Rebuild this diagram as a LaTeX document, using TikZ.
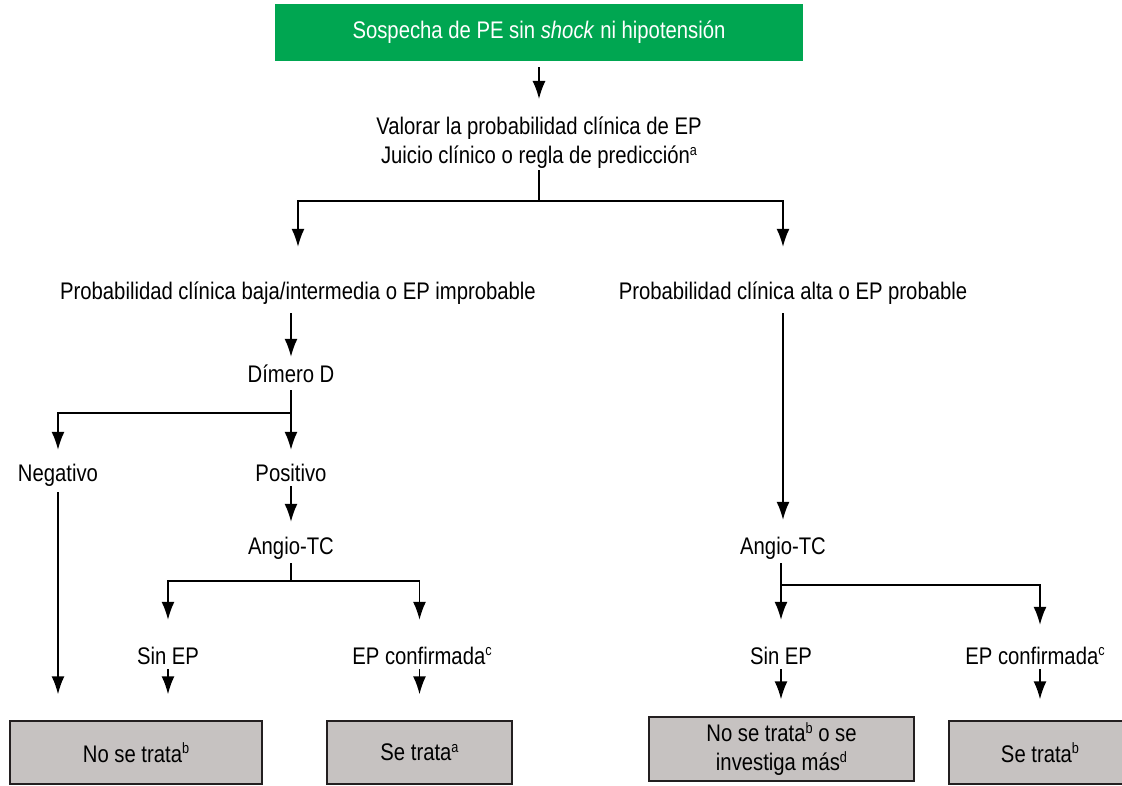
\documentclass[tikz,border=0pt]{standalone}
\usepackage{fontspec}
\setmainfont{Liberation Sans}[FakeStretch=0.845]
\usetikzlibrary{arrows.meta}

\definecolor{pegreen}{RGB}{0,166,81}
\definecolor{boxgray}{RGB}{198,194,193}
\definecolor{boxline}{RGB}{35,31,32}

\newcommand{\supr}[1]{\raisebox{0.36em}{\fontsize{15}{15}\selectfont #1}}

\tikzset{
  txt/.style={font=\fontsize{24}{29}\selectfont, inner sep=0pt, text height=17pt, text depth=5pt},
  twoline/.style={font=\fontsize{24}{29}\selectfont, inner sep=0pt, align=center},
  startbox/.style={fill=pegreen, text=white, font=\fontsize{24}{29}\selectfont, minimum width=528pt, minimum height=57pt, inner sep=0pt},
  endbox/.style={draw=boxline, fill=boxgray, line width=1.5pt, font=\fontsize{24}{29}\selectfont, align=center, minimum height=63pt, inner sep=0pt},
  arr/.style={-{Latex[length=18pt,width=13pt]}, line width=1.5pt},
  ln/.style={line width=1.5pt}
}

\begin{document}
\begin{tikzpicture}[x=1pt,y=-1pt]
        \useasboundingbox (0,0) rectangle (1122,786);

        \node[startbox] (sospecha) at (539,32.5) {Sospecha de PE sin \textit{shock} ni hipotensión};
        \node[twoline] (valorar) at (539,143) {Valorar la probabilidad clínica de EP\\Juicio clínico o regla de predicción\supr{a}};

        \node[txt] (baja) at (298,294) {Probabilidad clínica baja/intermedia o EP improbable};
        \node[txt] (alta) at (793,294) {Probabilidad clínica alta o EP probable};

        \node[txt] (dimero) at (291,376) {Dímero D};
        \node[txt] (negativo) at (58,475) {Negativo};
        \node[txt] (positivo) at (291,475) {Positivo};

        \node[txt] (angioizq) at (291,548) {Angio-TC};
        \node[txt] (angioder) at (783,548) {Angio-TC};

        \node[txt] (sinepizq) at (168,658) {Sin EP};
        \node[txt] (confizq) at (422,658) {EP confirmada\supr{c}};
        \node[txt] (sinepder) at (781,658) {Sin EP};
        \node[txt] (confder) at (1035,658) {EP confirmada\supr{c}};

        \node[endbox, minimum width=252pt] (notrataizq) at (136,752.5) {No se trata\supr{b}};
        \node[endbox, minimum width=185pt] (trataizq) at (419.5,752.5) {Se trata\supr{a}};
        \node[endbox, minimum width=265pt, minimum height=64pt] (notratader) at (781.5,749) {No se trata\supr{b} o se\\investiga más\supr{d}};
        \node[endbox, minimum width=182pt] (tratader) at (1040,752.5) {Se trata\supr{b}};

        \coordinate (rama) at (539,201);
        \coordinate (ramad) at (291,413);
        \coordinate (ramaa) at (291,581);
        \coordinate (ramab) at (781,585);

        \draw[arr, shorten <=6pt, shorten >=18pt] (sospecha) -- (valorar);
        \draw[ln, shorten <=1pt] (valorar) -- (rama);
        \draw[arr, shorten >=36pt] (rama) -| (baja.north);
        \draw[arr, shorten >=36pt] (rama) -| (angioder |- alta.north);

        \draw[arr, shorten <=8pt, shorten >=8pt] (dimero |- baja.south) -- (dimero);
        \draw[ln, shorten <=3pt] (dimero) -- (ramad);
        \draw[arr, shorten >=14pt] (ramad) -| (negativo);
        \draw[arr, shorten >=14pt] (ramad) -- (positivo);

        \draw[arr, shorten <=6pt, shorten >=26pt] (negativo) -- (negativo |- notrataizq.north);
        \draw[arr, shorten >=15pt] (positivo) -- (angioizq);
        \draw[ln, shorten <=4pt] (angioizq) -- (ramaa);
        \draw[arr, shorten >=27pt] (ramaa) -| (sinepizq);
        \draw[arr, shorten >=27pt] (ramaa) -| (trataizq |- confizq.north);
        \draw[arr, shorten >=26pt] (sinepizq) -- (sinepizq |- notrataizq.north);
        \draw[arr, shorten >=26pt] (trataizq |- confizq.south) -- (trataizq);

        \draw[arr, shorten <=8pt, shorten >=17pt] (angioder |- alta.south) -- (angioder);
        \draw[ln, shorten <=4pt] (sinepder |- angioder.south) -- (ramab);
        \draw[arr, shorten >=27pt] (ramab) -- (sinepder);
        \draw[arr, shorten >=22pt] (ramab) -| (tratader |- confder.north);
        \draw[arr, shorten >=17pt] (sinepder) -- (sinepder |- notratader.north);
        \draw[arr, shorten >=21pt] (tratader |- confder.south) -- (tratader);
    \end{tikzpicture}
\end{document}
